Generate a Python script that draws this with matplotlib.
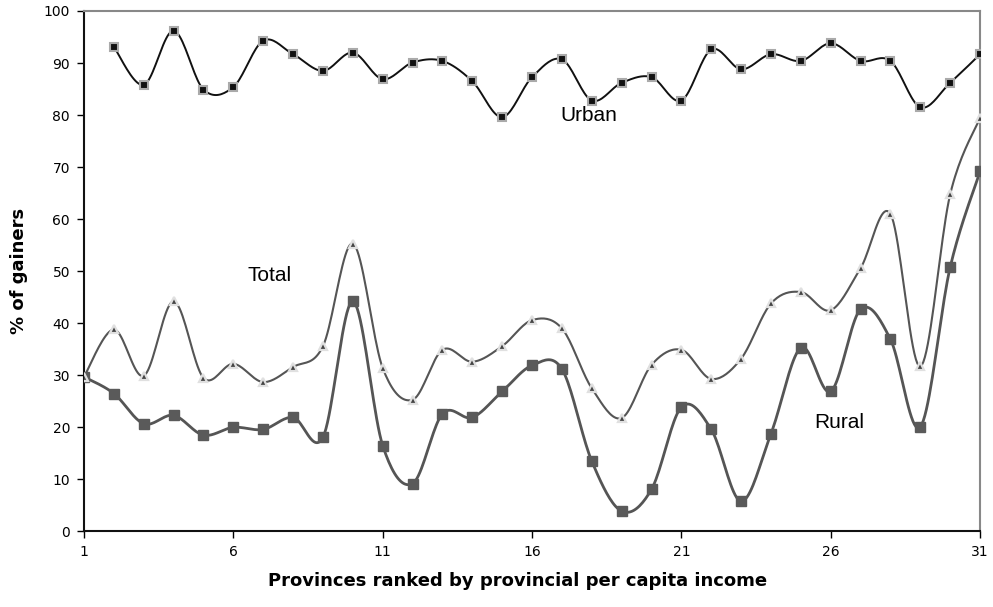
import numpy as np
import matplotlib.pyplot as plt

# province rank (1..31)
prov = np.arange(1, 32)

urban = [93.1, 85.8, 96.2, 84.9, 85.4, 94.3, 91.7, 88.5, 92.0, 86.9,
         90.1, 90.4, 86.5, 79.6, 87.3, 90.7, 82.8, 86.2, 87.3, 82.8,
         92.6, 88.8, 91.7, 90.4, 93.8, 90.4, 90.4, 81.5, 86.2, 91.7]   # starts at rank 2
total = [29.7, 38.8, 29.9, 44.2, 29.5, 32.2, 28.7, 31.6, 35.6, 55.3,
         31.4, 25.3, 34.9, 32.6, 35.6, 40.6, 39.0, 27.5, 21.8, 32.0,
         34.9, 29.3, 33.2, 43.8, 46.0, 42.5, 50.6, 61.0, 31.7, 64.8, 79.5]
rural = [29.7, 26.5, 20.7, 22.3, 18.5, 20.0, 19.6, 21.9, 18.1, 44.2,
         16.5, 9.2, 22.6, 21.9, 26.9, 31.9, 31.2, 13.5, 3.9, 8.1,
         23.9, 19.6, 5.8, 18.8, 35.3, 26.9, 42.7, 36.9, 20.1, 50.8, 69.2]


def smooth(x, y, n=20):
    # excel-like smoothed line (catmull-rom through the points)
    x = np.asarray(x, float); y = np.asarray(y, float)
    px = np.concatenate([[x[0]], x, [x[-1]]])
    py = np.concatenate([[y[0]], y, [y[-1]]])
    xs, ys = [], []
    t = np.linspace(0, 1, n, endpoint=False)
    for i in range(1, len(px) - 2):
        for p, out in ((px, xs), (py, ys)):
            p0, p1, p2, p3 = p[i-1], p[i], p[i+1], p[i+2]
            out.extend(0.5 * ((2*p1) + (-p0 + p2)*t + (2*p0 - 5*p1 + 4*p2 - p3)*t**2
                              + (-p0 + 3*p1 - 3*p2 + p3)*t**3))
    xs.append(x[-1]); ys.append(y[-1])
    return xs, ys


fig = plt.figure(figsize=(9.93, 6.07), dpi=100)
ax = fig.add_axes([0.0846, 0.1245, 0.9024, 0.8574])

xu, yu = smooth(prov[1:], urban)
ax.plot(xu, yu, color='#111111', lw=1.4, zorder=3)
ax.plot(prov[1:], urban, ls='none', marker='s', ms=6, mfc='#111111', mec='#aaaaaa', mew=1.5, zorder=4)

xt, yt = smooth(prov, total)
ax.plot(xt, yt, color='#555555', lw=1.5, zorder=2)
ax.plot(prov, total, ls='none', marker='^', ms=5.5, mfc='#444444', mec='#e0e0e0', mew=1.6, zorder=4)

xr, yr = smooth(prov, rural)
ax.plot(xr, yr, color='#555555', lw=2.0, zorder=2)
ax.plot(prov, rural, ls='none', marker='s', ms=7.5, mfc='#5a5a5a', mec='#5a5a5a', zorder=3)

ax.text(17.9, 80, 'Urban', fontsize=15, family='Liberation Sans', ha='center', va='center')
ax.text(7.2, 49.2, 'Total', fontsize=15, family='Liberation Sans', ha='center', va='center')
ax.text(26.3, 21, 'Rural', fontsize=15, family='Liberation Sans', ha='center', va='center')

ax.set_xlim(1, 31)
ax.set_ylim(0, 100)
ax.set_xticks([1, 6, 11, 16, 21, 26, 31])
ax.set_yticks(range(0, 101, 10))
ax.tick_params(direction='out', length=5, width=1, labelsize=10, pad=5)
for s in ['top', 'right']:
    ax.spines[s].set_color('#888888')
    ax.spines[s].set_linewidth(1.5)
for s in ['left', 'bottom']:
    ax.spines[s].set_color('#111111')
    ax.spines[s].set_linewidth(1.5)

ax.set_xlabel('Provinces ranked by provincial per capita income', fontsize=13,
              fontweight='bold', family='DejaVu Sans')
ax.set_ylabel('% of gainers', fontsize=13, fontweight='bold', family='DejaVu Sans')
ax.xaxis.set_label_coords(0.484, -0.078)
ax.yaxis.set_label_coords(-0.062, 0.5)

fig.savefig('out.png', dpi=100)
